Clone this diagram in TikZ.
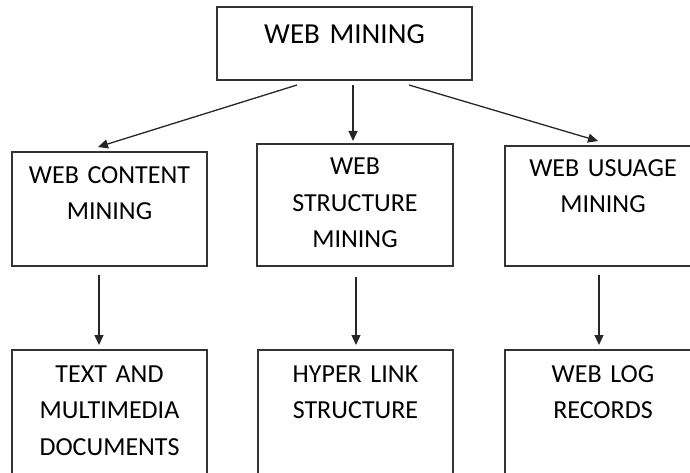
\documentclass[tikz,border=0pt]{standalone}
\usepackage{fontspec}
\setmainfont{Carlito}
\usetikzlibrary{arrows.meta}

\tikzset{
  box/.style={draw=black!80, line width=1.4pt, inner sep=0pt, outer sep=0pt,
    anchor=north west, align=center, font=\fontsize{26}{36.5}\selectfont},
  arr/.style={draw=black!85, line width=1.3pt, -{Triangle[length=10pt,width=9pt]}},
}

\begin{document}
\begin{tikzpicture}[x=1pt,y=-1pt]
    \clip (0,0) rectangle (690,473);

    % Top level
    \node[box, text width=255pt, text height=37pt, text depth=36pt,
      font=\fontsize{29}{34}\selectfont] (web) at (217,7) {WEB MINING};

    % Second row
    \node[box, text width=195pt, text height=31pt, text depth=83pt] (cont) at (12,152) {WEB CONTENT\\MINING};
    \node[box, text width=196pt, text height=31pt, text depth=91pt] (struct) at (257,144) {WEB\\STRUCTURE\\MINING};
    \node[box, text width=196pt, text height=30pt, text depth=90pt] (usage) at (505,146) {WEB USUAGE\\MINING};

    % Third row
    \node[box, text width=195pt, text height=32pt, text depth=98pt] (docs) at (12,350) {TEXT AND\\MULTIMEDIA\\DOCUMENTS};
    \node[box, text width=195pt, text height=32pt, text depth=98pt] (links) at (258,350) {HYPER LINK\\STRUCTURE};
    \node[box, text width=196pt, text height=32pt, text depth=98pt] (logs) at (505,350) {WEB LOG\\RECORDS};

    % Top to second row
    \draw[arr] ([shift={(80pt,-5pt)}]web.south west) -- ([shift={(86pt,5pt)}]cont.north west);
    \draw[arr] ([shift={(8.5pt,-5pt)}]web.south) -- ([shift={(-2pt,3pt)}]struct.north);
    \draw[arr] ([shift={(-63pt,-5pt)}]web.south east) -- ([shift={(93pt,5pt)}]usage.north west);

    % Second to third row
    \draw[arr] ([shift={(-10.5pt,-9pt)}]cont.south) -- ([shift={(-10.5pt,5pt)}]docs.north);
    \draw[arr] ([shift={(1pt,-11pt)}]struct.south) -- ([shift={(0.5pt,5pt)}]links.north);
    \draw[arr] ([shift={(-4pt,-9pt)}]usage.south) -- ([shift={(-4pt,5pt)}]logs.north);
\end{tikzpicture}
\end{document}
